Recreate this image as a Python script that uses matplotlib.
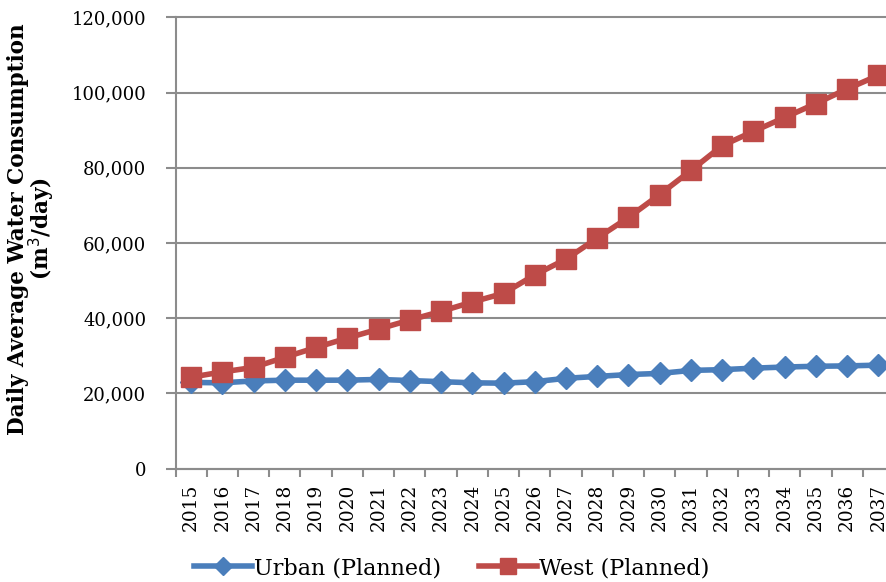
import matplotlib
matplotlib.use("Agg")
import matplotlib.pyplot as plt
from matplotlib.ticker import FuncFormatter, FixedLocator

years = [str(y) for y in range(2015, 2038)]
urban_planned = [22900, 22800, 23300, 23500, 23500, 23500, 23700, 23400, 23100, 22800,
                 22700, 23100, 24000, 24500, 25000, 25300, 26100, 26300, 26700, 27000,
                 27200, 27300, 27500]
west_planned = [24300, 25700, 26900, 29600, 32200, 34700, 37100, 39500, 41800, 44300,
                46600, 51500, 55700, 61300, 66800, 72900, 79300, 85900, 89700, 93400,
                97100, 101000, 104600]
y_ticks = [0, 20000, 40000, 60000, 80000, 100000, 120000]

plt.rcParams["font.family"] = ["DejaVu Serif"]

fig = plt.figure(figsize=(8.86, 5.82), dpi=100)
ax = fig.add_axes([175.5 / 886, 1 - 468.5 / 582, (894 - 175.5) / 886, (468.5 - 17.5) / 582])

x = list(range(len(years)))
blue = "#4A7EBB"
red = "#BE4B48"
grid_c = "#8C8C8C"

ax.plot(x, urban_planned, color=blue, lw=4, marker="D", markersize=11,
        label="Urban (Planned)", zorder=3, clip_on=False)
ax.plot(x, west_planned, color=red, lw=4, marker="s", markersize=15,
        label="West (Planned)", zorder=4, clip_on=False)

ax.set_xlim(-0.5, len(years) - 0.5)
ax.set_ylim(0, 120000)
ax.yaxis.set_major_locator(FixedLocator(y_ticks))
ax.yaxis.set_major_formatter(FuncFormatter(lambda v, p: f"{int(v):,}"))
ax.grid(axis="y", color=grid_c, lw=1.5, zorder=0)
ax.set_axisbelow(True)
for gl in ax.get_ygridlines():
    gl.set_clip_on(False)

ax.set_xticks(x)
ax.set_xticklabels(years, rotation=90, fontsize=13.3)
ax.set_xticks([i - 0.5 for i in range(len(years) + 1)], minor=True)
ax.tick_params(axis="x", which="major", length=0, pad=11)
ax.tick_params(axis="x", which="minor", length=6, width=1.5, color=grid_c)
ax.tick_params(axis="y", length=7, width=1.5, color=grid_c, labelsize=13, pad=14)

for s in ["top", "right"]:
    ax.spines[s].set_visible(False)
for s in ["left", "bottom"]:
    ax.spines[s].set_color(grid_c)
    ax.spines[s].set_linewidth(1.5)

ax.set_ylabel("Daily Average Water Consumption\n(m$^3$/day)", fontsize=15.5,
              fontweight="bold", linespacing=0.88)
ax.yaxis.set_label_coords((57 - 175.5) / 718.5, (468.5 - 229) / 451)

fig.legend(loc="center", bbox_to_anchor=(452 / 886, 1 - 568 / 582), ncol=2,
           frameon=False, fontsize=16, handlelength=2.6, columnspacing=1.7,
           handletextpad=0.1, markerscale=0.8)

fig.savefig("out.png", dpi=100)
